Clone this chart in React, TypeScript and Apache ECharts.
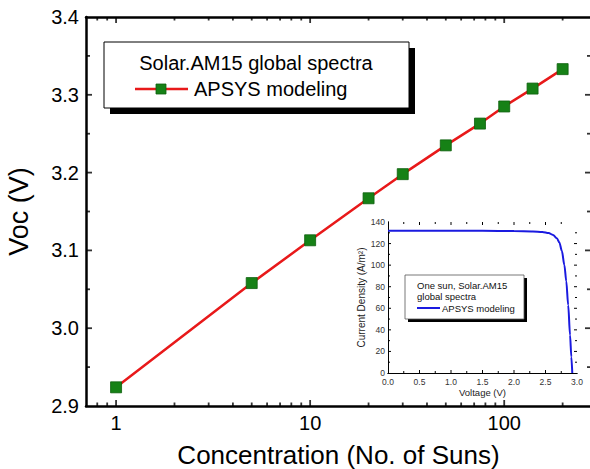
import React, { useEffect, useRef } from "react";
import * as echarts from "echarts";

// Main chart data
const concentration = [1, 5, 10, 20, 30, 50, 75, 100, 140, 200];
const voc = [2.924, 3.058, 3.113, 3.167, 3.198, 3.235, 3.263, 3.285, 3.308, 3.333];
const majorXLabels = [1, 10, 100];
const minorXTicks = [0.8, 0.9, 2, 3, 4, 5, 6, 7, 8, 9, 20, 30, 40, 50, 60, 70, 80, 90, 200];
const majorYTicks = [3.0, 3.1, 3.2, 3.3];
const minorYTicks = [2.95, 3.05, 3.15, 3.25, 3.35];

// Inset data
const voltage = [0, 0.5, 1.0, 1.5, 2.0, 2.3, 2.45, 2.55, 2.62, 2.68, 2.72, 2.76, 2.8, 2.83, 2.86, 2.89, 2.91, 2.925];
const current = [132, 132, 132, 131.8, 131.6, 131.3, 130.8, 129.8, 128, 125, 121, 113, 100, 85, 63, 35, 15, 0];
const insetMajorX = [0.5, 1.0, 1.5, 2.0, 2.5];
const insetMinorX = [0.25, 0.75, 1.25, 1.75, 2.25, 2.75];
const insetMajorY = [20, 40, 60, 80, 100, 120];
const insetMinorY = [10, 30, 50, 70, 90, 110, 130];

const FONT = "'Liberation Sans', Arial, sans-serif";
const Y0 = 2.9;
const Y1 = 3.4;
const X0 = 0.7;
const X1 = 280;

// Tick marks drawn as series symbols sitting on the axis edges (so the library's own scales place them)
function tickSeries(data: number[][], size: number[], offset: number[]) {
  return {
    type: "scatter", xAxisIndex: 0, yAxisIndex: 0, silent: true, clip: false,
    data, symbol: "rect", symbolSize: size, symbolOffset: offset,
    itemStyle: { color: "#000" }, z: 8, emphasis: { disabled: true },
  };
}

export default function App() {
  const ref = useRef<HTMLDivElement>(null);
  useEffect(() => {
    if (!ref.current) return;
    const chart = echarts.init(ref.current, undefined, { renderer: "svg" });

    const mainAxisLine = () => ({ show: true, lineStyle: { color: "#000", width: 2.5 } });
    const insetLine = () => ({ show: true, lineStyle: { color: "#000", width: 1 } });
    const noTick = () => ({ show: false });

    const legendGraphics: any[] = [
      // Main legend
      { type: "rect", shape: { x: 110, y: 48, width: 305, height: 66 }, style: { fill: "#000" }, z: 10 },
      { type: "rect", shape: { x: 104, y: 42, width: 305, height: 66 }, style: { fill: "#fff", stroke: "#000", lineWidth: 1 }, z: 11 },
      { type: "text", x: 256, y: 63, style: { text: "Solar.AM15 global spectra", font: `20px ${FONT}`, fill: "#000", align: "center", verticalAlign: "middle" }, z: 12 },
      { type: "line", shape: { x1: 135, y1: 89, x2: 188, y2: 89 }, style: { stroke: "#e8191a", lineWidth: 2.5 }, z: 12 },
      { type: "rect", shape: { x: 156, y: 84, width: 10, height: 10 }, style: { fill: "#168116", stroke: "#0d5f0d", lineWidth: 0.8 }, z: 13 },
      { type: "text", x: 194, y: 89, style: { text: "APSYS modeling", font: `20px ${FONT}`, fill: "#000", align: "left", verticalAlign: "middle" }, z: 12 },
      // Inset legend
      { type: "rect", shape: { x: 408, y: 278, width: 119, height: 44 }, style: { fill: "#000" }, z: 10 },
      { type: "rect", shape: { x: 405, y: 275, width: 119, height: 44 }, style: { fill: "#fff", stroke: "#555", lineWidth: 0.8 }, z: 11 },
      { type: "text", x: 417, y: 285, style: { text: "One sun, Solar.AM15", font: `9.5px ${FONT}`, fill: "#111", align: "left", verticalAlign: "middle" }, z: 12 },
      { type: "text", x: 417, y: 296, style: { text: "global spectra", font: `9.5px ${FONT}`, fill: "#111", align: "left", verticalAlign: "middle" }, z: 12 },
      { type: "line", shape: { x1: 417, y1: 308, x2: 440, y2: 308 }, style: { stroke: "#1a1ae0", lineWidth: 2 }, z: 12 },
      { type: "text", x: 442, y: 308, style: { text: "APSYS modeling", font: `9.5px ${FONT}`, fill: "#111", align: "left", verticalAlign: "middle" }, z: 12 },
    ];

    const MJ = 6; // major tick length
    const MN = 3.5; // minor tick length
    const TW = 1.8; // tick width
    const option: any = {
      animation: false,
      backgroundColor: "#fff",
      textStyle: { fontFamily: FONT },
      grid: [
        { left: 86, top: 17, width: 505, height: 389, containLabel: false, outerBoundsMode: "none" },
        { left: 388, top: 222, width: 189, height: 151, containLabel: false, outerBoundsMode: "none", show: true, backgroundColor: "#fff", borderWidth: 0 },
      ],
      xAxis: [
        {
          type: "log", logBase: 10, gridIndex: 0, min: X0, max: X1, position: "bottom",
          axisLine: mainAxisLine(), axisTick: noTick(), minorTick: noTick(), splitLine: { show: false },
          axisLabel: {
            fontSize: 20, color: "#000", fontFamily: FONT, margin: 7,
            formatter: (v: number) => (majorXLabels.some((m) => Math.abs(m - v) < 1e-6 * m) ? String(Math.round(v)) : ""),
          },
          name: "Concentration (No. of Suns)", nameLocation: "middle", nameGap: 36,
          nameTextStyle: { fontSize: 26, color: "#000", fontFamily: FONT },
        },
        {
          type: "log", logBase: 10, gridIndex: 0, min: X0, max: X1, position: "top",
          axisLine: mainAxisLine(), axisTick: noTick(), minorTick: noTick(), splitLine: { show: false }, axisLabel: { show: false },
        },
        {
          type: "value", gridIndex: 1, min: 0, max: 3, interval: 0.5, position: "bottom",
          axisLine: insetLine(), axisTick: noTick(), minorTick: noTick(), splitLine: { show: false },
          axisLabel: { fontSize: 8.5, color: "#333", fontFamily: FONT, margin: 4, formatter: (v: number) => v.toFixed(1) },
          name: "Voltage (V)", nameLocation: "middle", nameGap: 14,
          nameTextStyle: { fontSize: 9.5, color: "#222", fontFamily: FONT },
        },
        {
          type: "value", gridIndex: 1, min: 0, max: 3, interval: 0.5, position: "top",
          axisLine: insetLine(), axisTick: noTick(), minorTick: noTick(), splitLine: { show: false }, axisLabel: { show: false },
        },
      ],
      yAxis: [
        {
          type: "value", gridIndex: 0, min: Y0, max: Y1, interval: 0.1, position: "left",
          axisLine: mainAxisLine(), axisTick: noTick(), minorTick: noTick(), splitLine: { show: false },
          axisLabel: { fontSize: 20, color: "#000", fontFamily: FONT, margin: 7, formatter: (v: number) => v.toFixed(1) },
          name: "Voc (V)", nameLocation: "middle", nameGap: 54,
          nameTextStyle: { fontSize: 27, color: "#000", fontFamily: FONT },
        },
        {
          type: "value", gridIndex: 0, min: Y0, max: Y1, interval: 0.1, position: "right",
          axisLine: mainAxisLine(), axisTick: noTick(), minorTick: noTick(), splitLine: { show: false }, axisLabel: { show: false },
        },
        {
          type: "value", gridIndex: 1, min: 0, max: 140, interval: 20, position: "left",
          axisLine: insetLine(), axisTick: noTick(), minorTick: noTick(), splitLine: { show: false },
          axisLabel: { fontSize: 8.5, color: "#333", fontFamily: FONT, margin: 3 },
          name: "Current Density (A/m²)", nameLocation: "middle", nameGap: 20,
          nameTextStyle: { fontSize: 10, color: "#222", fontFamily: FONT },
        },
        {
          type: "value", gridIndex: 1, min: 0, max: 140, interval: 20, position: "right",
          axisLine: insetLine(), axisTick: noTick(), minorTick: noTick(), splitLine: { show: false }, axisLabel: { show: false },
        },
      ],
      series: [
        // main x ticks (bottom and top), pointing inwards
        tickSeries(majorXLabels.map((v) => [v, Y0]), [TW, MJ], [0, -MJ / 2]),
        tickSeries(majorXLabels.map((v) => [v, Y1]), [TW, MJ], [0, MJ / 2]),
        tickSeries(minorXTicks.map((v) => [v, Y0]), [TW, MN], [0, -MN / 2]),
        tickSeries(minorXTicks.map((v) => [v, Y1]), [TW, MN], [0, MN / 2]),
        // main y ticks (left and right), pointing inwards
        tickSeries(majorYTicks.map((v) => [X0, v]), [MJ, TW], [MJ / 2, 0]),
        tickSeries(majorYTicks.map((v) => [X1, v]), [MJ, TW], [-MJ / 2, 0]),
        tickSeries(minorYTicks.map((v) => [X0, v]), [4, TW], [2, 0]),
        tickSeries(minorYTicks.map((v) => [X1, v]), [4, TW], [-2, 0]),
        {
          type: "line", xAxisIndex: 0, yAxisIndex: 0, name: "APSYS modeling",
          data: concentration.map((c, i) => [c, voc[i]]),
          symbol: "rect", symbolSize: 11, showSymbol: true,
          lineStyle: { color: "#e8191a", width: 2.5 },
          itemStyle: { color: "#168116", borderColor: "#0d5f0d", borderWidth: 0.8 },
          z: 5,
        },
        {
          type: "line", xAxisIndex: 2, yAxisIndex: 2, name: "inset",
          data: voltage.map((v, i) => [v, current[i]]),
          showSymbol: false, smooth: 0.3, smoothMonotone: "x",
          lineStyle: { color: "#1a1ae0", width: 2 },
          z: 5,
        },
      ],
      graphic: legendGraphics,
    };
    chart.setOption(option);

    // Inset ticks, positioned through the inset grid's coordinate system
    const pt = (gi: number, x: number, y: number) => chart.convertToPixel({ gridIndex: gi } as any, [x, y]) as unknown as number[];
    const ticks: any[] = [];
    const seg = (x1: number, y1: number, x2: number, y2: number, w: number) => {
      if (![x1, y1, x2, y2].every((n) => Number.isFinite(n))) return;
      ticks.push({ type: "line", shape: { x1, y1, x2, y2 }, style: { stroke: "#000", lineWidth: w }, z: 8, silent: true });
    };
    const addX = (gi: number, yLo: number, yHi: number, vals: number[], len: number, w: number) => {
      vals.forEach((v) => {
        const b = pt(gi, v, yLo);
        const t = pt(gi, v, yHi);
        seg(b[0], b[1], b[0], b[1] - len, w);
        seg(t[0], t[1], t[0], t[1] + len, w);
      });
    };
    const addY = (gi: number, xLo: number, xHi: number, vals: number[], len: number, w: number) => {
      vals.forEach((v) => {
        const l = pt(gi, xLo, v);
        const r = pt(gi, xHi, v);
        seg(l[0], l[1], l[0] + len, l[1], w);
        seg(r[0], r[1], r[0] - len, r[1], w);
      });
    };
    addX(1, 0, 140, insetMajorX, 3, 1);
    addX(1, 0, 140, insetMinorX, 2, 1);
    addY(1, 0, 3, insetMajorY, 3, 1);
    addY(1, 0, 3, insetMinorY, 2, 1);

    chart.setOption({ graphic: [...legendGraphics, ...ticks] });
    return () => chart.dispose();
  }, []);
  return <div ref={ref} style={{ position: "absolute", left: 0, top: 0, width: 590, height: 469 }} />;
}
